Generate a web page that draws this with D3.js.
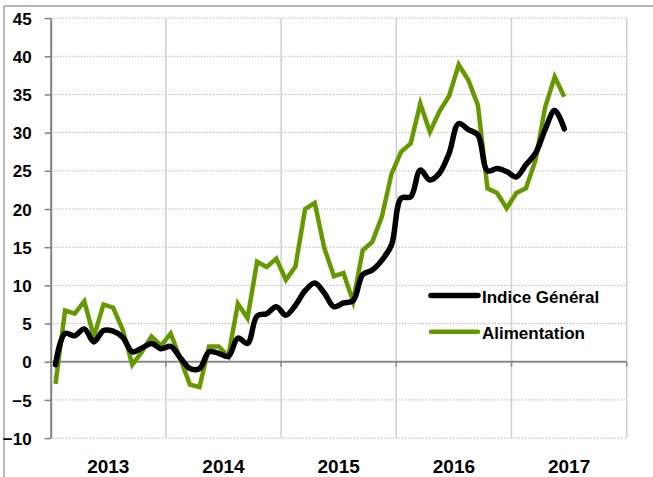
<!DOCTYPE html>
<html>
<head>
<meta charset="utf-8">
<script src="https://cdn.jsdelivr.net/npm/d3@7"></script>
<style>
  html, body { margin: 0; padding: 0; background: #fff; }
  svg { display: block; }
  text { font-family: "Liberation Sans", Arial, sans-serif; font-weight: bold; fill: #000; }
</style>
</head>
<body>
<svg id="chart" width="653" height="477"></svg>
<script>
// ---- data (monthly, Jan 2013 – Jun 2017) ----
const years = ["2013", "2014", "2015", "2016", "2017"];
const yTicks = [-10, -5, 0, 5, 10, 15, 20, 25, 30, 35, 40, 45];
const seriesNames = ["Indice Général", "Alimentation"];
const indiceGeneral = [
  -0.4, 3.7, 3.4, 4.3, 2.6, 4.1, 4.0, 3.2, 1.3, 1.8, 2.4, 1.7,
  2.0, 0.5, -0.9, -0.9, 1.3, 1.1, 0.7, 3.1, 2.4, 6.0, 6.3, 7.2,
  6.1, 7.4, 9.3, 10.3, 9.0, 7.2, 7.7, 8.0, 11.4, 12.0, 13.3, 15.3,
  21.4, 21.6, 25.1, 23.8, 24.7, 27.3, 31.2, 30.4, 29.7, 25.0, 25.3, 24.9,
  24.2, 25.8, 27.3, 30.4, 32.9, 30.5
];
const alimentation = [
  -2.9, 6.7, 6.3, 7.9, 3.3, 7.5, 7.1, 4.2, -0.4, 1.3, 3.3, 2.1,
  3.7, 0.4, -3.0, -3.3, 2.0, 2.0, 0.7, 7.6, 5.7, 13.1, 12.4, 13.5,
  10.7, 12.5, 20.0, 20.8, 14.9, 11.2, 11.6, 7.9, 14.6, 15.7, 19.0, 24.6,
  27.5, 28.6, 33.8, 30.1, 32.8, 34.8, 38.9, 36.9, 33.6, 22.7, 22.1, 20.1,
  22.1, 22.7, 26.4, 33.3, 37.3, 34.7
];
const colors = ["#000000", "#669900"];

// ---- layout ----
const svg = d3.select("#chart");
const pLeft = 50.7, pRight = 626.7, pTop = 18.1, pBottom = 438.1;
const x = d3.scaleLinear().domain([0, years.length * 12]).range([pLeft, pRight]);
const y = d3.scaleLinear().domain([-10, 45]).range([pBottom, pTop]);

// outer frame (left and top)
svg.append("line").attr("x1", 4).attr("x2", 4).attr("y1", 6).attr("y2", 477)
  .attr("stroke", "#a0a0a0").attr("stroke-width", 1.5);
svg.append("line").attr("x1", 4).attr("x2", 653).attr("y1", 6).attr("y2", 6)
  .attr("stroke", "#a0a0a0").attr("stroke-width", 1.5);

// horizontal dotted gridlines
svg.append("g").selectAll("line").data(yTicks.filter(d => d !== 0)).join("line")
  .attr("x1", pLeft).attr("x2", pRight)
  .attr("y1", d => y(d)).attr("y2", d => y(d))
  .attr("stroke", "#b8b8b8").attr("stroke-width", 1).attr("stroke-dasharray", "1.5,1.5");

// vertical year gridlines
const yearBounds = d3.range(1, years.length + 1).map(k => k * 12);
svg.append("g").selectAll("line").data(yearBounds).join("line")
  .attr("x1", d => x(d)).attr("x2", d => x(d))
  .attr("y1", pTop).attr("y2", pBottom)
  .attr("stroke", "#cfcfcf").attr("stroke-width", 1.5);

// zero line with small ticks
svg.append("line").attr("x1", pLeft).attr("x2", pRight).attr("y1", y(0)).attr("y2", y(0))
  .attr("stroke", "#8a8a8a").attr("stroke-width", 2);
svg.append("g").selectAll("line").data(yearBounds).join("line")
  .attr("x1", d => x(d)).attr("x2", d => x(d))
  .attr("y1", y(0)).attr("y2", y(0) + 5)
  .attr("stroke", "#8a8a8a").attr("stroke-width", 1.5);

// y axis
const yAxis = d3.axisLeft(y).tickValues(yTicks).tickSize(6).tickSizeOuter(0).tickPadding(13);
const ga = svg.append("g").attr("transform", `translate(${pLeft},0)`).call(yAxis);
ga.select(".domain").attr("stroke", "#808080").attr("stroke-width", 2);
ga.selectAll(".tick line").attr("stroke", "#808080").attr("stroke-width", 1.5);
ga.selectAll(".tick text")
  .style("font-family", '"Liberation Sans", Arial, sans-serif')
  .style("font-weight", "bold").style("font-size", "17px").attr("fill", "#000")
  .attr("dy", "0.36em");

// year labels
svg.append("g").selectAll("text").data(years).join("text")
  .attr("x", (d, i) => x(i * 12 + 6)).attr("y", 473)
  .attr("text-anchor", "middle").style("font-size", "19px").text(d => d);

// lines
const lineStraight = d3.line().x((d, i) => x(i + 0.5)).y(d => y(d));
const lineSmooth = d3.line().x((d, i) => x(i + 0.5)).y(d => y(d)).curve(d3.curveCatmullRom.alpha(0.5));
svg.append("path").datum(alimentation).attr("d", lineStraight)
  .attr("fill", "none").attr("stroke", colors[1]).attr("stroke-width", 4.5)
  .attr("stroke-linejoin", "miter");
svg.append("path").datum(indiceGeneral).attr("d", lineSmooth)
  .attr("fill", "none").attr("stroke", colors[0]).attr("stroke-width", 5.5)
  .attr("stroke-linejoin", "round").attr("stroke-linecap", "round");

// legend
const legY = [295.5, 331.7];
const lg = svg.append("g");
seriesNames.forEach((name, i) => {
  lg.append("line").attr("x1", 431).attr("x2", 478).attr("y1", legY[i]).attr("y2", legY[i])
    .attr("stroke", colors[i]).attr("stroke-width", i === 0 ? 5.5 : 4.5).attr("stroke-linecap", "round");
  lg.append("text").attr("x", 482).attr("y", legY[i] + 7.2)
    .style("font-size", "17px").text(name);
});
</script>
</body>
</html>
